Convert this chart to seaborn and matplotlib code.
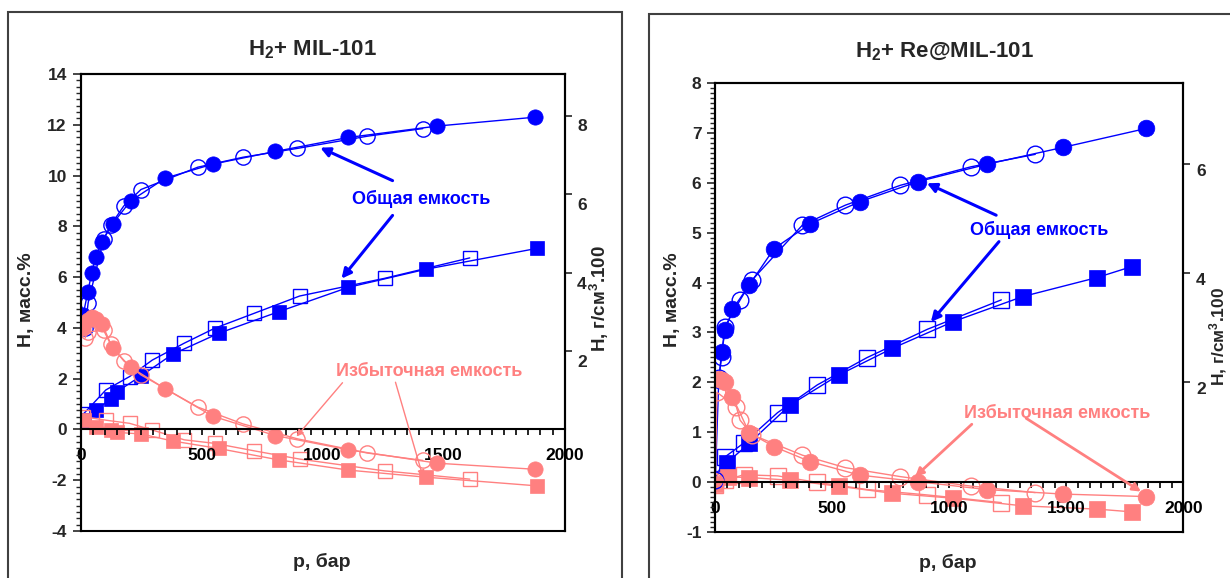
import numpy as np
import matplotlib
matplotlib.use('Agg')
import matplotlib.pyplot as plt
import seaborn as sns
from matplotlib.patches import Rectangle
from matplotlib.ticker import MultipleLocator, FixedLocator
from matplotlib.transforms import ScaledTranslation

# ---------------- H2 + MIL-101 ----------------
mil_p_fill = [10, 29, 45, 62, 88, 132, 206, 350, 546, 804, 1106, 1474, 1879]
mil_tot_fill = [4.5, 5.4, 6.15, 6.8, 7.4, 8.1, 9.0, 9.9, 10.45, 10.95, 11.5, 11.95, 12.3]
mil_exc_fill = [4.0, 4.3, 4.42, 4.35, 4.16, 3.2, 2.45, 1.6, 0.52, -0.24, -0.8, -1.33, -1.57]

mil_p_open = [18, 31, 95, 124, 178, 249, 484, 670, 896, 1185, 1414]
mil_tot_open = [4.0, 5.0, 7.5, 8.05, 8.8, 9.45, 10.33, 10.72, 11.07, 11.55, 11.85]
mil_exc_open = [3.6, 3.85, 3.9, 3.35, 2.7, 2.15, 0.88, 0.22, -0.37, -0.93, -1.22]

# volumetric (right axis, г/см3*100)
mil_psq_fill = [13, 63, 127, 149, 250, 380, 570, 818, 1106, 1426, 1884]
mil_vtot_fill = [0.25, 0.51, 0.8, 0.97, 1.38, 1.93, 2.46, 3.01, 3.63, 4.09, 4.62]
mil_vexc_fill = [0.25, 0.08, 0.0, -0.06, -0.1, -0.28, -0.47, -0.76, -1.02, -1.2, -1.42]

mil_psq_open = [10, 104, 202, 296, 428, 554, 717, 905, 1256, 1608]
mil_vtot_open = [0.4, 1.02, 1.36, 1.78, 2.21, 2.59, 2.97, 3.41, 3.86, 4.38]
mil_vexc_open = [0.34, 0.25, 0.17, 0.0, -0.25, -0.34, -0.53, -0.74, -1.04, -1.25]

# ---------------- H2 + Re@MIL-101 ----------------
re_p_fill = [15, 27, 43, 73, 145, 251, 406, 617, 864, 1159, 1486, 1842]
re_tot_fill = [2.04, 2.61, 3.05, 3.46, 3.95, 4.68, 5.18, 5.62, 6.02, 6.37, 6.71, 7.09]
re_exc_fill = [2.06, 2.05, 2.01, 1.71, 0.99, 0.71, 0.41, 0.14, 0.01, -0.15, -0.24, -0.29]

re_p_open = [0, 15, 27, 40, 106, 157, 372, 555, 791, 1092, 1367]
re_tot_open = [0.05, 2.08, 2.51, 3.11, 3.65, 4.05, 5.15, 5.55, 5.95, 6.32, 6.57]
re_pe_open = [0, 7, 90, 106, 157, 372, 555, 791, 1092, 1367]
re_exc_open = [0.0, 1.8, 1.51, 1.24, 0.95, 0.54, 0.29, 0.11, -0.08, -0.21]

re_psq_fill = [50, 145, 319, 527, 756, 1016, 1313, 1631, 1779]
re_vtot_fill = [0.52, 0.88, 1.58, 2.13, 2.62, 3.11, 3.57, 3.92, 4.12]
re_pe_sq_fill = [0, 55, 145, 319, 527, 756, 1016, 1313, 1631, 1779]
re_vexc_fill = [0.14, 0.26, 0.25, 0.2, 0.09, -0.04, -0.13, -0.27, -0.33, -0.38]

re_psq_open = [0, 42, 121, 266, 436, 648, 906, 1222]
re_vtot_open = [0.22, 0.63, 0.88, 1.44, 1.95, 2.45, 2.97, 3.51]
re_vexc_open = [0.11, 0.2, 0.3, 0.28, 0.16, 0.03, -0.07, -0.21]

BLUE = '#0000FF'
PINK = '#FF8080'

sns.set_theme(style='white')
plt.rcParams['font.family'] = ['Liberation Sans', 'DejaVu Sans']
plt.rcParams['font.weight'] = 'bold'
plt.rcParams['axes.unicode_minus'] = False
plt.rcParams['mathtext.fontset'] = 'custom'
plt.rcParams['mathtext.rm'] = 'Liberation Sans:bold'
plt.rcParams['mathtext.default'] = 'rm'

fig = plt.figure(figsize=(12.3, 5.78), dpi=100)
W, H = 1230, 578

# outer chart frames
fig.add_artist(Rectangle((8 / W, -0.1), 614 / W, 1.1 - 12 / H, transform=fig.transFigure,
                         fill=False, edgecolor='#404040', lw=1.5))
fig.add_artist(Rectangle((649 / W, -0.1), 0.6, 1.1 - 14 / H, transform=fig.transFigure,
                         fill=False, edgecolor='#404040', lw=1.5))


def series(ax, x, y, color, marker, filled, ms):
    sns.lineplot(x=x, y=y, ax=ax, color=color, lw=1, sort=False, estimator=None, legend=False,
                 marker=marker, markersize=ms,
                 markerfacecolor=color if filled else 'none', markeredgecolor=color,
                 markeredgewidth=1 if not filled else 0.5)


def setup(ax, ax2, ylim, ylim2, yminor, ticks2, shift2):
    ax.set_xlim(0, 2000)
    ax.set_ylim(*ylim)
    ax2.set_ylim(*ylim2)
    ax.spines['bottom'].set_position(('data', 0))
    for a in (ax, ax2):
        for s in a.spines.values():
            s.set_color('black')
            s.set_linewidth(1.5)
    ax.xaxis.set_major_locator(MultipleLocator(500))
    ax.xaxis.set_minor_locator(MultipleLocator(50))
    ax.yaxis.set_major_locator(MultipleLocator(2 if ylim[1] > 10 else 1))
    ax.yaxis.set_minor_locator(MultipleLocator(yminor))
    ax.tick_params(axis='x', which='both', direction='out', bottom=True, length=4.5, width=1.2,
                   pad=9, labelsize=12.5, colors='black')
    ax.tick_params(axis='y', which='major', direction='out', left=True, length=6, width=1.2,
                   pad=4, labelsize=12.5)
    ax.tick_params(axis='y', which='minor', direction='out', left=True, length=3.5, width=1)
    ax2.yaxis.set_major_locator(FixedLocator(ticks2))
    ax2.tick_params(axis='y', which='major', direction='out', right=True, length=5, width=1.2,
                    pad=4, labelsize=12.5)
    for lab in ax.get_xticklabels() + ax.get_yticklabels() + ax2.get_yticklabels():
        lab.set_fontweight('bold')
    off = ScaledTranslation(0, -shift2 / 72, fig.dpi_scale_trans)
    for lab in ax2.get_yticklabels():
        lab.set_transform(lab.get_transform() + off)
    ax.set_xlabel('')
    ax.set_ylabel('')
    ax2.set_ylabel('')
    ax.set_zorder(ax2.get_zorder() + 1)
    ax.patch.set_visible(False)


def arrow(ax, tail, head, color, lw, ms):
    ax.annotate('', xy=head, xytext=tail,
                arrowprops=dict(arrowstyle='-|>', color=color, lw=lw, mutation_scale=ms,
                                shrinkA=0, shrinkB=0))


# ---------- left panel ----------
axL = fig.add_axes([80.7 / W, 47 / H, 483.9 / W, 457 / H])
axL2 = axL.twinx()
series(axL2, mil_psq_fill, mil_vtot_fill, BLUE, 's', True, 10.5)
series(axL2, mil_psq_open, mil_vtot_open, BLUE, 's', False, 10.5)
series(axL2, mil_psq_fill, mil_vexc_fill, PINK, 's', True, 10.5)
series(axL2, mil_psq_open, mil_vexc_open, PINK, 's', False, 10.5)
series(axL, mil_p_open, mil_tot_open, BLUE, 'o', False, 11)
series(axL, mil_p_fill, mil_tot_fill, BLUE, 'o', True, 11)
series(axL, mil_p_open, mil_exc_open, PINK, 'o', False, 11)
series(axL, mil_p_fill, mil_exc_fill, PINK, 'o', True, 11)
setup(axL, axL2, (-4, 14), (-2.57, 9.06), 0.25, [2, 4, 6, 8], 7)

axL.text(1408, 9.06, 'Общая емкость', color=BLUE, fontsize=13, fontweight='bold',
         ha='center', va='center')
arrow(axL, (1289, 9.8), (990, 11.1), BLUE, 2.2, 14)
arrow(axL, (1289, 8.43), (1078, 5.94), BLUE, 2.2, 14)
axL.text(1440, 2.3, 'Избыточная емкость', color=PINK, fontsize=13, fontweight='bold',
         ha='center', va='center')
arrow(axL, (1082, 1.84), (892, -0.28), PINK, 1.0, 10)
arrow(axL, (1301, 1.86), (1415, -1.88), PINK, 1.0, 10)

# ---------- right panel ----------
axR = fig.add_axes([715.3 / W, 46 / H, 468.1 / W, 449 / H])
axR2 = axR.twinx()
series(axR2, re_psq_fill, re_vtot_fill, BLUE, 's', True, 11.5)
series(axR2, re_psq_open, re_vtot_open, BLUE, 's', False, 11.5)
series(axR2, re_pe_sq_fill, re_vexc_fill, PINK, 's', True, 11.5)
series(axR2, re_psq_open, re_vexc_open, PINK, 's', False, 11.5)
series(axR, re_p_open, re_tot_open, BLUE, 'o', False, 12)
series(axR, re_p_fill, re_tot_fill, BLUE, 'o', True, 12)
series(axR, re_pe_open, re_exc_open, PINK, 'o', False, 12)
series(axR, re_p_fill, re_exc_fill, PINK, 'o', True, 12)
setup(axR, axR2, (-1, 8), (-0.75, 7.49), 0.1, [2, 4, 6], 4)

axR.text(1383, 5.05, 'Общая емкость', color=BLUE, fontsize=13, fontweight='bold',
         ha='center', va='center')
arrow(axR, (1200, 5.35), (904, 5.99), BLUE, 2.2, 14)
arrow(axR, (1212, 4.82), (921, 3.21), BLUE, 2.2, 14)
axR.text(1461, 1.38, 'Избыточная емкость', color=PINK, fontsize=13, fontweight='bold',
         ha='center', va='center')
arrow(axR, (1096, 1.16), (854, 0.11), PINK, 2.0, 12)
arrow(axR, (1328, 1.28), (1819, -0.19), PINK, 2.0, 12)

# ---------- titles and axis labels ----------
fig.text(312 / W, 1 - 50 / H, 'H$_2$+ MIL-101', fontsize=16, fontweight='bold', ha='center', va='center')
fig.text(945 / W, 1 - 52 / H, 'H$_2$+ Re@MIL-101', fontsize=16, fontweight='bold', ha='center', va='center')
fig.text(27 / W, 1 - 300 / H, 'H, масс.%', fontsize=14, fontweight='bold', rotation=90,
         ha='center', va='center')
fig.text(672 / W, 1 - 300 / H, 'H, масс.%', fontsize=14, fontweight='bold', rotation=90,
         ha='center', va='center')
fig.text(599 / W, 1 - 299 / H, 'H, г/см$^3$.100', fontsize=13.5, fontweight='bold', rotation=90,
         ha='center', va='center')
fig.text(1218 / W, 1 - 336 / H, 'H, г/см$^3$.100', fontsize=12.5, fontweight='bold', rotation=90,
         ha='center', va='center')
fig.text(322 / W, 1 - 562 / H, 'p, бар', fontsize=14, fontweight='bold', ha='center', va='center')
fig.text(948 / W, 1 - 563 / H, 'p, бар', fontsize=14, fontweight='bold', ha='center', va='center')

fig.savefig('out.png', dpi=100, facecolor='white')
